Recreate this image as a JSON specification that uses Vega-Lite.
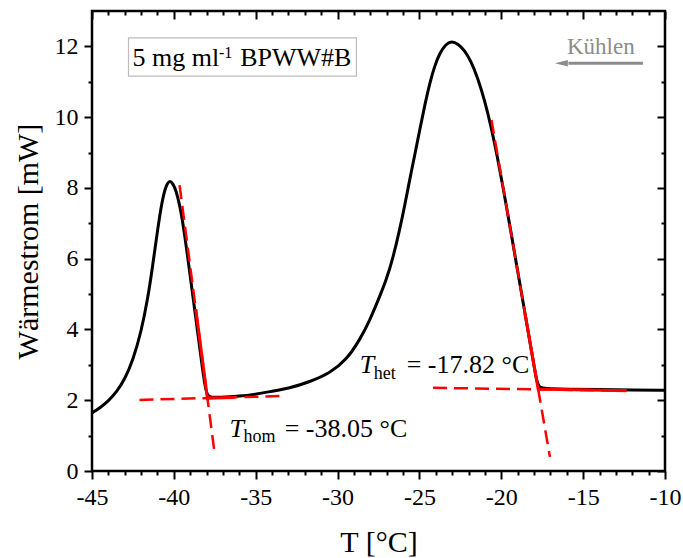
{
  "$schema": "https://vega.github.io/schema/vega-lite/v6.json",
  "width": 573,
  "height": 460,
  "autosize": {"type": "none"},
  "padding": {"left": 92, "top": 11, "right": 18, "bottom": 87},
  "config": {
    "view": {"stroke": "black", "strokeWidth": 2.5},
    "axis": {
      "grid": false, "domain": false, "tickColor": "black", "tickWidth": 2,
      "labelFont": "Liberation Serif", "labelFontSize": 24, "labelColor": "black",
      "titleFont": "Liberation Serif", "titleFontSize": 30, "titleFontWeight": "normal", "titleColor": "black",
      "labelFlush": false, "labelOverlap": false
    },
    "text": {"font": "Liberation Serif"}
  },
  "datasets": {
    "curve": [
      {"T": -45.0, "W": 1.64}, {"T": -44.5, "W": 1.79}, {"T": -44.0, "W": 1.98}, {"T": -43.5, "W": 2.23},
      {"T": -43.0, "W": 2.59}, {"T": -42.5, "W": 3.13}, {"T": -42.0, "W": 3.93}, {"T": -41.6, "W": 4.85},
      {"T": -41.3, "W": 5.78}, {"T": -41.0, "W": 6.8}, {"T": -40.7, "W": 7.7}, {"T": -40.45, "W": 8.1},
      {"T": -40.26, "W": 8.21}, {"T": -40.06, "W": 8.13}, {"T": -39.86, "W": 7.92}, {"T": -39.66, "W": 7.55},
      {"T": -39.46, "W": 7.05}, {"T": -39.26, "W": 6.4}, {"T": -39.06, "W": 5.72}, {"T": -38.86, "W": 5.02},
      {"T": -38.66, "W": 4.32}, {"T": -38.46, "W": 3.62}, {"T": -38.26, "W": 2.92}, {"T": -38.1, "W": 2.42},
      {"T": -38.0, "W": 2.2}, {"T": -37.88, "W": 2.11}, {"T": -37.7, "W": 2.08}, {"T": -37.4, "W": 2.08},
      {"T": -37.0, "W": 2.09}, {"T": -36.0, "W": 2.11}, {"T": -35.0, "W": 2.17}, {"T": -34.15, "W": 2.24},
      {"T": -32.93, "W": 2.34}, {"T": -31.71, "W": 2.52}, {"T": -30.48, "W": 2.76}, {"T": -29.46, "W": 3.14},
      {"T": -28.65, "W": 3.7}, {"T": -28.04, "W": 4.25}, {"T": -27.5, "W": 4.85}, {"T": -27.02, "W": 5.4},
      {"T": -26.6, "W": 6.05}, {"T": -26.21, "W": 6.81}, {"T": -25.9, "W": 7.5}, {"T": -25.6, "W": 8.22},
      {"T": -25.3, "W": 8.9}, {"T": -24.98, "W": 9.64}, {"T": -24.67, "W": 10.35}, {"T": -24.37, "W": 10.96},
      {"T": -24.07, "W": 11.45}, {"T": -23.76, "W": 11.81}, {"T": -23.4, "W": 12.06}, {"T": -23.04, "W": 12.15},
      {"T": -22.64, "W": 12.07}, {"T": -22.24, "W": 11.89}, {"T": -21.84, "W": 11.57}, {"T": -21.44, "W": 11.11},
      {"T": -21.04, "W": 10.51}, {"T": -20.64, "W": 9.77}, {"T": -20.24, "W": 8.89}, {"T": -19.84, "W": 7.89},
      {"T": -19.44, "W": 6.83}, {"T": -19.04, "W": 5.76}, {"T": -18.64, "W": 4.69}, {"T": -18.24, "W": 3.62},
      {"T": -17.98, "W": 2.92}, {"T": -17.82, "W": 2.52}, {"T": -17.7, "W": 2.38}, {"T": -17.5, "W": 2.34},
      {"T": -17.0, "W": 2.32}, {"T": -16.0, "W": 2.31}, {"T": -14.0, "W": 2.3}, {"T": -12.0, "W": 2.29},
      {"T": -10.0, "W": 2.28}
    ],
    "dashed": [
      {"seg": "hom_steep", "T": -39.65, "W": 8.08}, {"seg": "hom_steep", "T": -37.51, "W": 0.5},
      {"seg": "hom_base", "T": -42.1, "W": 2.01}, {"seg": "hom_base", "T": -33.34, "W": 2.12},
      {"seg": "het_steep", "T": -20.6, "W": 9.92}, {"seg": "het_steep", "T": -17.03, "W": 0.4},
      {"seg": "het_base", "T": -24.17, "W": 2.35}, {"seg": "het_base", "T": -12.35, "W": 2.27}
    ],
    "solid": [
      {"seg": "hom", "T": -38.66, "W": 4.58}, {"seg": "hom", "T": -37.95, "W": 2.06}, {"seg": "hom", "T": -36.3, "W": 2.08},
      {"seg": "het", "T": -18.55, "W": 4.45}, {"seg": "het", "T": -17.75, "W": 2.32}, {"seg": "het", "T": -12.35, "W": 2.27}
    ],
    "box": [{"x1": -42.77, "x2": -28.85, "y1": 11.16, "y2": 12.24}],
    "boxtext": [{"T": -42.52, "W": 11.45, "label": "5 mg ml"}, {"T": -35.95, "W": 11.45, "label": "BPWW#B"}],
    "sup": [{"T": -37.25, "W": 11.68, "label": "-1"}],
    "kuehlen": [{"T": -13.92, "W": 11.79, "label": "Kühlen"}],
    "arrow": [{"T": -11.35, "W": 11.52}, {"T": -15.9, "W": 11.52}],
    "arrowhead": [{"T": -16.33, "W": 11.52}],
    "italicT": [{"T": -36.6, "W": 0.96, "label": "T"}, {"T": -28.65, "W": 2.77, "label": "T"}],
    "subs": [{"T": -35.74, "W": 0.82, "label": "hom"}, {"T": -27.79, "W": 2.6, "label": "het"}],
    "eq": [{"T": -33.23, "W": 0.96, "label": "= -38.05 °C"}, {"T": -25.78, "W": 2.77, "label": "= -17.82 °C"}]
  },
  "layer": [
    {
      "data": {"name": "curve"},
      "mark": {"type": "line", "color": "black", "strokeWidth": 3, "interpolate": "basis"},
      "encoding": {
        "x": {"field": "T", "type": "quantitative", "scale": {"domain": [-45, -10], "nice": false, "zero": false},
          "axis": {"orient": "bottom", "values": [-45, -40, -35, -30, -25, -20, -15, -10], "tickSize": 8, "labelPadding": 6,
            "labelExpr": "replace(datum.label, '−', '-')", "title": "T [°C]", "titlePadding": 18}},
        "y": {"field": "W", "type": "quantitative", "scale": {"domain": [0, 13], "nice": false, "zero": false},
          "axis": {"orient": "left", "values": [0, 2, 4, 6, 8, 10, 12], "tickSize": 8, "labelPadding": 6,
            "title": "Wärmestrom [mW]", "titlePadding": 11}}
      }
    },
    {
      "data": {"name": "dashed"},
      "mark": {"type": "line", "color": "#ff0000", "strokeWidth": 2.5, "strokeDash": [14, 7]},
      "encoding": {
        "x": {"field": "T", "type": "quantitative",
          "axis": {"orient": "bottom", "values": [-44, -43, -42, -41, -39, -38, -37, -36, -34, -33, -32, -31, -29, -28, -27, -26, -24, -23, -22, -21, -19, -18, -17, -16, -14, -13, -12, -11], "tickSize": 4, "labels": false, "title": null}},
        "y": {"field": "W", "type": "quantitative",
          "axis": {"orient": "left", "values": [1, 3, 5, 7, 9, 11], "tickSize": 4, "labels": false, "title": null}},
        "detail": {"field": "seg"}
      }
    },
    {
      "data": {"name": "solid"},
      "mark": {"type": "line", "color": "#ff0000", "strokeWidth": 3},
      "encoding": {
        "x": {"field": "T", "type": "quantitative",
          "axis": {"orient": "top", "values": [-45, -40, -35, -30, -25, -20, -15, -10], "tickSize": -8, "labels": false, "title": null}},
        "y": {"field": "W", "type": "quantitative",
          "axis": {"orient": "right", "values": [0, 2, 4, 6, 8, 10, 12], "tickSize": -8, "labels": false, "title": null}},
        "detail": {"field": "seg"}
      }
    },
    {
      "data": {"name": "box"},
      "mark": {"type": "rect", "fill": "white", "fillOpacity": 0, "stroke": "#bdbdbd", "strokeWidth": 1.2},
      "encoding": {
        "x": {"field": "x1", "type": "quantitative",
          "axis": {"orient": "top", "values": [-44, -43, -42, -41, -39, -38, -37, -36, -34, -33, -32, -31, -29, -28, -27, -26, -24, -23, -22, -21, -19, -18, -17, -16, -14, -13, -12, -11], "tickSize": -4, "labels": false, "title": null}},
        "x2": {"field": "x2"},
        "y": {"field": "y1", "type": "quantitative",
          "axis": {"orient": "right", "values": [1, 3, 5, 7, 9, 11], "tickSize": -4, "labels": false, "title": null}},
        "y2": {"field": "y2"}
      }
    },
    {
      "data": {"name": "boxtext"},
      "mark": {"type": "text", "align": "left", "baseline": "alphabetic", "fontSize": 26, "color": "black"},
      "encoding": {
        "x": {"field": "T", "type": "quantitative", "axis": null},
        "y": {"field": "W", "type": "quantitative", "axis": null},
        "text": {"field": "label"}
      }
    },
    {
      "data": {"name": "sup"},
      "mark": {"type": "text", "align": "left", "baseline": "alphabetic", "fontSize": 16, "color": "black"},
      "encoding": {
        "x": {"field": "T", "type": "quantitative", "axis": null},
        "y": {"field": "W", "type": "quantitative", "axis": null},
        "text": {"field": "label"}
      }
    },
    {
      "data": {"name": "kuehlen"},
      "mark": {"type": "text", "align": "center", "baseline": "alphabetic", "fontSize": 23, "color": "#8c8c8c"},
      "encoding": {
        "x": {"field": "T", "type": "quantitative", "axis": null},
        "y": {"field": "W", "type": "quantitative", "axis": null},
        "text": {"field": "label"}
      }
    },
    {
      "data": {"name": "arrow"},
      "mark": {"type": "line", "color": "#8c8c8c", "strokeWidth": 3},
      "encoding": {
        "x": {"field": "T", "type": "quantitative", "axis": null},
        "y": {"field": "W", "type": "quantitative", "axis": null}
      }
    },
    {
      "data": {"name": "arrowhead"},
      "mark": {"type": "point", "shape": "M -1 0 L 1 -0.5 L 1 0.5 Z", "size": 169, "filled": true, "color": "#8c8c8c", "opacity": 1},
      "encoding": {
        "x": {"field": "T", "type": "quantitative", "axis": null},
        "y": {"field": "W", "type": "quantitative", "axis": null}
      }
    },
    {
      "data": {"name": "italicT"},
      "mark": {"type": "text", "align": "left", "baseline": "alphabetic", "fontSize": 26, "fontStyle": "italic", "color": "black"},
      "encoding": {
        "x": {"field": "T", "type": "quantitative", "axis": null},
        "y": {"field": "W", "type": "quantitative", "axis": null},
        "text": {"field": "label"}
      }
    },
    {
      "data": {"name": "subs"},
      "mark": {"type": "text", "align": "left", "baseline": "alphabetic", "fontSize": 18, "color": "black"},
      "encoding": {
        "x": {"field": "T", "type": "quantitative", "axis": null},
        "y": {"field": "W", "type": "quantitative", "axis": null},
        "text": {"field": "label"}
      }
    },
    {
      "data": {"name": "eq"},
      "mark": {"type": "text", "align": "left", "baseline": "alphabetic", "fontSize": 26, "color": "black"},
      "encoding": {
        "x": {"field": "T", "type": "quantitative", "axis": null},
        "y": {"field": "W", "type": "quantitative", "axis": null},
        "text": {"field": "label"}
      }
    }
  ],
  "resolve": {"axis": {"x": "independent", "y": "independent"}}
}
